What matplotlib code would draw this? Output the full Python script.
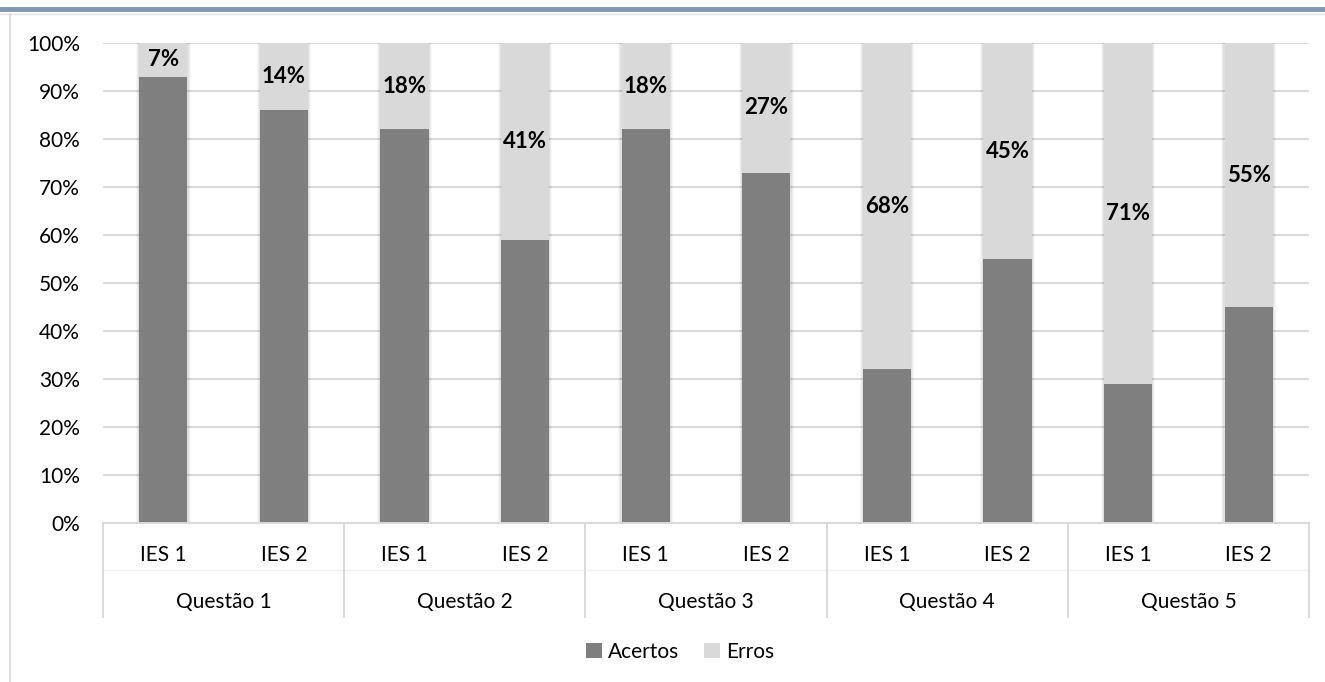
import matplotlib
matplotlib.use("Agg")
import matplotlib.pyplot as plt
from matplotlib.patches import Patch
from matplotlib.lines import Line2D
from matplotlib.transforms import blended_transform_factory
import numpy as np

plt.rcParams['font.family'] = ['Lato', 'DejaVu Sans']

questoes = ["Questão 1", "Questão 2", "Questão 3", "Questão 4", "Questão 5"]
instituicoes = ["IES 1", "IES 2"]
acertos = [93, 86, 82, 59, 82, 73, 32, 55, 29, 45]
erros = [7, 14, 18, 41, 18, 27, 68, 45, 71, 55]
y_ticks = [0, 10, 20, 30, 40, 50, 60, 70, 80, 90, 100]

COR_ACERTOS = "#7F7F7F"
COR_ERROS = "#D9D9D9"
COR_GRADE = "#D9D9D9"
FS = 15

fig = plt.figure(figsize=(13.25, 6.82), dpi=100)
ax = fig.add_axes([103 / 1325, 1 - 523 / 682, (1309 - 103) / 1325, 480 / 682])

n = len(acertos)
x = np.arange(n)
largura = 0.40

# soft shadow around each bar
for k, a in enumerate([0.05, 0.04, 0.03]):
    w = largura + (k + 1) * 0.018
    ax.bar(x, [100] * n, width=w, color="#000000", alpha=a, zorder=1.5, linewidth=0)

ax.bar(x, acertos, width=largura, color=COR_ACERTOS, zorder=2, linewidth=0)
ax.bar(x, erros, width=largura, bottom=acertos, color=COR_ERROS, zorder=2, linewidth=0)

for xi, a, e in zip(x, acertos, erros):
    ax.text(xi, a + e / 2, f"{e}%", ha="center", va="center", fontsize=16,
            fontweight="bold", color="black", zorder=3)

ax.set_xlim(-0.5, n - 0.5)
ax.set_ylim(0, 100)
ax.set_yticks(y_ticks)
ax.set_yticklabels([f"{t}%" for t in y_ticks], fontsize=FS, color="#000000")
ax.tick_params(axis="y", length=0, pad=16.5)
ax.set_xticks([])
for s in ax.spines.values():
    s.set_visible(False)
ax.yaxis.grid(True, color=COR_GRADE, linewidth=1.4, zorder=0)
ax.set_axisbelow(True)

# multi-level category axis
tr = blended_transform_factory(ax.transData, ax.transAxes)
ax.add_line(Line2D([-0.5, n - 0.5], [0, 0], transform=tr, color=COR_GRADE,
                   linewidth=1.4, clip_on=False, zorder=2.5))
ax.add_line(Line2D([-0.5, n - 0.5], [-0.098, -0.098], transform=tr, color="#F0F0F0",
                   linewidth=1.0, clip_on=False))
for g in range(len(questoes) + 1):
    xb = -0.5 + 2 * g
    ax.add_line(Line2D([xb, xb], [0, -0.196], transform=tr, color=COR_GRADE,
                       linewidth=1.4, clip_on=False))
for xi in x:
    ax.text(xi, -0.067, instituicoes[xi % 2], transform=tr, ha="center", va="center",
            fontsize=FS, color="black")
for g, q in enumerate(questoes):
    ax.text(2 * g + 0.5, -0.165, q, transform=tr, ha="center", va="center",
            fontsize=FS, color="black")

# legend
handles = [Patch(facecolor=COR_ACERTOS, label="Acertos"),
           Patch(facecolor=COR_ERROS, label="Erros")]
fig.legend(handles=handles, loc="center", bbox_to_anchor=(680 / 1325, 1 - 652 / 682),
           ncol=2, frameon=False, fontsize=FS, handlelength=0.75, handleheight=0.75,
           handletextpad=0.3, columnspacing=1.2)

# frame decoration
fig.add_artist(Line2D([0, 1], [1 - 9 / 682, 1 - 9 / 682], transform=fig.transFigure,
                      color="#8497B0", linewidth=3.5))
fig.add_artist(Line2D([0, 1], [1 - 13.5 / 682, 1 - 13.5 / 682], transform=fig.transFigure,
                      color="#DCE3EC", linewidth=1.0))
fig.add_artist(Line2D([9.5 / 1325, 9.5 / 1325], [0, 1 - 14 / 682], transform=fig.transFigure,
                      color="#D9D9D9", linewidth=1.2))

fig.savefig("out.png", dpi=100)
